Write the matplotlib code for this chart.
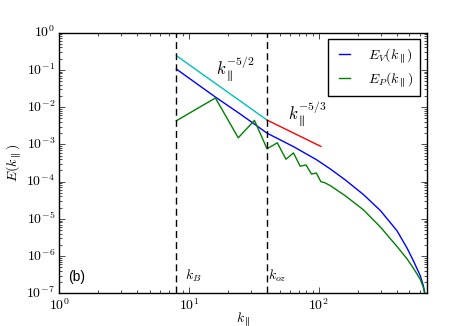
import matplotlib
matplotlib.use('Agg')
import matplotlib.pyplot as plt
from matplotlib.ticker import FuncFormatter
import numpy as np

plt.style.use('classic')
plt.rcParams['mathtext.fontset'] = 'cm'
plt.rcParams['font.size'] = 10

# spectra (k_par, E)
k_v = [8, 16, 24, 32, 40, 64, 96, 123, 160, 222, 300, 402, 480, 539, 607, 640, 664, 680]
E_v = [1.05e-1, 1.86e-2, 7.1e-3, 3.5e-3, 2.0e-3, 8.7e-4, 3.9e-4, 2.19e-4, 1.12e-4,
       4.47e-5, 1.66e-5, 4.8e-6, 1.66e-6, 7.4e-7, 3.0e-7, 1.66e-7, 9.0e-8, 1.0e-8]

k_p = [8, 16, 24, 32, 40, 48, 56, 64, 72, 80, 88, 96, 104, 112, 123, 160, 222,
       300, 402, 480, 539, 607, 640, 664, 680]
E_p = [4.3e-3, 1.76e-2, 1.5e-3, 4.4e-3, 7.6e-4, 1.1e-3, 4.0e-4, 5.9e-4, 2.6e-4,
       2.8e-4, 1.6e-4, 1.7e-4, 1.0e-4, 9.3e-5, 7.8e-5, 4.2e-5, 1.74e-5, 6.0e-6,
       1.82e-6, 8.5e-7, 4.7e-7, 2.4e-7, 1.5e-7, 8.5e-8, 1.0e-8]

# reference slopes
k_s1 = [8, 40]
E_s1 = [0.24, 4.5e-3]
k_s2 = [40, 104]
E_s2 = [4.5e-3, 8.8e-4]

k_B = 8
k_oz = 40

fig = plt.figure(figsize=(4.74, 3.26), dpi=100, facecolor='white')
ax = fig.add_subplot(111)
fig.subplots_adjust(left=0.125, right=0.9, bottom=0.1, top=0.9)

ax.loglog(k_v, E_v, 'b', lw=1, label=r'$E_V(k_\parallel)$')
ax.loglog(k_p, E_p, 'g', lw=1, label=r'$E_P(k_\parallel)$')
ax.loglog(k_s1, E_s1, 'c', lw=1)
ax.loglog(k_s2, E_s2, 'r', lw=1)

ax.axvline(k_B, color='k', ls='--', dashes=(5, 3), lw=1)
ax.axvline(k_oz, color='k', ls='--', dashes=(5, 3), lw=1)

ax.text(16.3, 0.074, r'$k_\parallel^{-5/2}$', fontsize=12, ha='left', va='baseline')
ax.text(58, 4.6e-3, r'$k_\parallel^{-5/3}$', fontsize=12, ha='left', va='baseline')
ax.text(9.25, 2.3e-7, r'$k_B$', fontsize=10, ha='left', va='baseline')
ax.text(41, 2.3e-7, r'$k_{oz}$', fontsize=10, ha='left', va='baseline')
ax.text(1.18, 2.1e-7, '(b)', fontsize=10, family='Liberation Sans', ha='left', va='baseline')

ax.set_xlim(1, 680)
ax.set_ylim(1e-7, 1)

pow_fmt = FuncFormatter(lambda v, pos: r'$10^{%d}$' % int(round(np.log10(v))))
ax.xaxis.set_major_formatter(pow_fmt)
ax.yaxis.set_major_formatter(pow_fmt)

ax.set_xlabel(r'$k_\parallel$', fontsize=10)
ax.set_ylabel(r'$E(k_\parallel)$', fontsize=10)
ax.xaxis.set_label_coords(0.5, -0.064)
ax.yaxis.set_label_coords(-0.1, 0.5)
ax.tick_params(labelsize=10, pad=3)

leg = ax.legend(loc='upper right', fontsize=10, handlelength=1.4, handletextpad=1.0,
                borderpad=0.5, labelspacing=0.4, borderaxespad=0.45)
leg.get_frame().set_linewidth(1)

fig.savefig('out.png', dpi=100, facecolor='white')
